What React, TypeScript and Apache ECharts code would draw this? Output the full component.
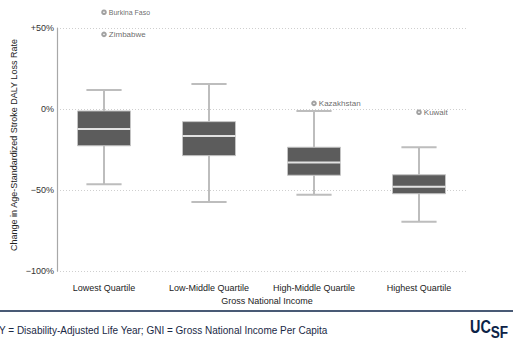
import React, { useEffect, useRef } from "react";
import * as echarts from "echarts";

// Income groups on the x axis
const categories = [
  "Lowest Quartile",
  "Low-Middle Quartile",
  "High-Middle Quartile",
  "Highest Quartile",
];

// Box-and-whisker summary per group (% change)
const whiskerLow = [-46.4, -57.4, -52.9, -69.6];
const quartile1 = [-22.7, -28.8, -40.9, -52.3];
const medians = [-12.3, -16.7, -33.1, -48.0];
const quartile3 = [-1.2, -7.8, -23.6, -40.6];
const whiskerHigh = [11.7, 15.4, -1.2, -23.6];

// Labelled outlying countries
const outlierNames = ["Burkina Faso", "Zimbabwe", "Kazakhstan", "Kuwait"];
const outlierGroup = [0, 0, 2, 3];
const outlierValues = [59.7, 46.1, 3.5, -2.0];

// Y axis tick values and their labels
const yTicks = [50, 0, -50, -100];
const yTickLabels = ["+50%", "0%", "\u221250%", "\u2212100%"];

const FONT = "'Liberation Sans', Arial, Helvetica, sans-serif";
const NAVY = "#0c2347";

export default function App() {
  const ref = useRef<HTMLDivElement>(null);

  useEffect(() => {
    if (!ref.current) return;
    const chart = echarts.init(ref.current, undefined, { renderer: "svg" });

    const boxData = categories.map((_, i) => [
      i,
      whiskerLow[i],
      quartile1[i],
      medians[i],
      quartile3[i],
      whiskerHigh[i],
    ]);

    const outlierData = outlierNames.map((name, i) => ({
      name,
      value: [outlierGroup[i], outlierValues[i]],
      label: { fontSize: name.length > 10 ? 7 : 8 },
    }));

    const top = 28;
    const height = 243;

    chart.setOption({
      animation: false,
      backgroundColor: "#ffffff",
      grid: [
        { left: 51.5, width: 420, top, height },
        { left: 57, width: 409, top, height },
      ],
      xAxis: [
        {
          type: "category",
          gridIndex: 0,
          data: categories,
          axisLine: { show: false },
          axisTick: { show: false },
          axisLabel: {
            interval: 0,
            color: "#222",
            fontSize: 9,
            fontFamily: FONT,
            margin: 12,
          },
        },
        { type: "value", gridIndex: 1, show: false, min: 0, max: 1 },
      ],
      yAxis: [
        {
          type: "value",
          gridIndex: 0,
          min: -100,
          max: 50,
          interval: 50,
          show: false,
        },
        {
          type: "value",
          gridIndex: 1,
          min: -100,
          max: 50,
          interval: 50,
          axisLine: { show: true, lineStyle: { color: "#a8a8a8", width: 1.2 } },
          axisTick: { show: false },
          splitLine: {
            show: true,
            lineStyle: { color: "#cfcfcf", type: [1, 2], width: 1 },
          },
          axisLabel: {
            color: "#333",
            fontSize: 9,
            fontFamily: FONT,
            margin: 3,
            formatter: (v: number) => {
              const k = yTicks.indexOf(v);
              return k >= 0 ? yTickLabels[k] : "";
            },
          },
        },
      ],
      series: [
        {
          type: "custom",
          xAxisIndex: 0,
          yAxisIndex: 0,
          data: boxData,
          encode: { x: 0, y: [1, 2, 3, 4, 5] },
          renderItem: (_params: any, api: any) => {
            const i = api.value(0);
            const lo = api.coord([i, api.value(1)]);
            const q1 = api.coord([i, api.value(2)]);
            const med = api.coord([i, api.value(3)]);
            const q3 = api.coord([i, api.value(4)]);
            const hi = api.coord([i, api.value(5)]);
            const band = api.size([1, 0])[0];
            const boxW = band * 0.505;
            const capW = band * 0.335;
            const cx = lo[0];
            const whisk = { stroke: "#bdbdbd", lineWidth: 2 };
            return {
              type: "group",
              children: [
                {
                  type: "line",
                  shape: { x1: cx, y1: hi[1], x2: cx, y2: q3[1] },
                  style: whisk,
                },
                {
                  type: "line",
                  shape: { x1: cx, y1: q1[1], x2: cx, y2: lo[1] },
                  style: whisk,
                },
                {
                  type: "line",
                  shape: { x1: cx - capW / 2, y1: hi[1], x2: cx + capW / 2, y2: hi[1] },
                  style: whisk,
                },
                {
                  type: "line",
                  shape: { x1: cx - capW / 2, y1: lo[1], x2: cx + capW / 2, y2: lo[1] },
                  style: whisk,
                },
                {
                  type: "rect",
                  shape: {
                    x: cx - boxW / 2,
                    y: q3[1],
                    width: boxW,
                    height: q1[1] - q3[1],
                  },
                  style: { fill: "#5c5c5c", stroke: "#c4c4c4", lineWidth: 1 },
                },
                {
                  type: "line",
                  shape: {
                    x1: cx - boxW / 2,
                    y1: med[1],
                    x2: cx + boxW / 2,
                    y2: med[1],
                  },
                  style: { stroke: "#e2e2e2", lineWidth: 2 },
                },
              ],
            };
          },
        },
        {
          type: "scatter",
          xAxisIndex: 0,
          yAxisIndex: 0,
          clip: false,
          data: outlierData,
          symbol: "emptyCircle",
          symbolSize: 3.6,
          itemStyle: { color: "#8a8a8a", borderColor: "#8a8a8a", borderWidth: 0.8 },
          label: {
            show: true,
            position: "right",
            distance: 2,
            formatter: "{b}",
            color: "#444",
            fontSize: 8,
            fontFamily: FONT,
          },
        },
      ],
      graphic: [
        {
          type: "text",
          x: 14,
          y: 145,
          rotation: Math.PI / 2,
          style: {
            text: "Change in Age-Standardized Stroke DALY Loss Rate",
            fill: "#222",
            font: `9px ${FONT}`,
            textAlign: "center",
            textVerticalAlign: "middle",
          },
        },
        {
          type: "text",
          x: 267,
          y: 301,
          style: {
            text: "Gross National Income",
            fill: "#222",
            font: `9px ${FONT}`,
            textAlign: "center",
            textVerticalAlign: "middle",
          },
        },
        {
          type: "line",
          shape: { x1: 0, y1: 311, x2: 513, y2: 311 },
          style: { stroke: NAVY, lineWidth: 1.5 },
        },
        {
          type: "text",
          x: -1,
          y: 330,
          style: {
            text: "Y = Disability-Adjusted Life Year; GNI = Gross National Income Per Capita",
            fill: "#1a2946",
            font: `10px ${FONT}`,
            textAlign: "left",
            textVerticalAlign: "middle",
          },
        },
        {
          // UCSF wordmark: "UC" high, "SF" dropped
          type: "text",
          x: 470,
          y: 317.5,
          scaleX: 0.8,
          style: {
            text: "{u|UC}{s|SF}",
            textAlign: "left",
            textVerticalAlign: "top",
            rich: {
              u: {
                fill: NAVY,
                font: `bold 18px ${FONT}`,
                lineHeight: 23,
                verticalAlign: "top",
              },
              s: {
                fill: NAVY,
                font: `bold 17px ${FONT}`,
                lineHeight: 23,
                verticalAlign: "bottom",
              },
            },
          },
        },
      ],
    });

    return () => chart.dispose();
  }, []);

  return (
    <div
      ref={ref}
      style={{ position: "absolute", left: 0, top: 0, width: 513, height: 341 }}
    />
  );
}
